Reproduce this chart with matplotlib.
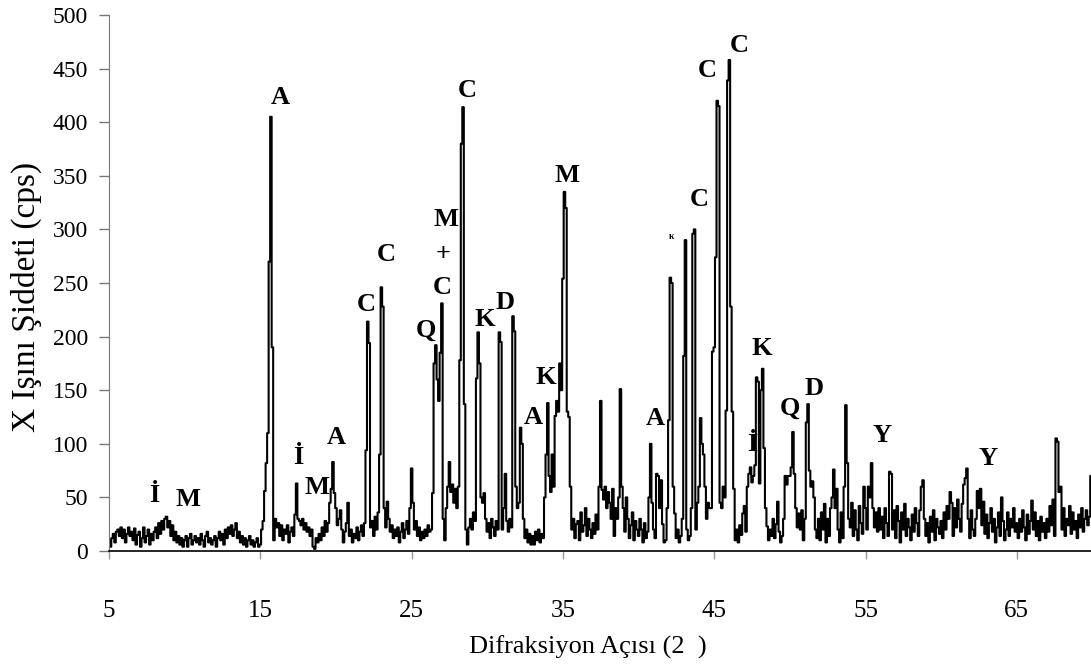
import matplotlib
matplotlib.use('Agg')
import matplotlib.pyplot as plt
import numpy as np

# ---------------- data ----------------
# intensity (cps) read from the pattern, 0.1 deg steps from 5.0 to 70.0 (2 theta)
intensity = [
    10, 4, 12, 16, 8, 18, 20, 14, 22, 12,        # 5
    20, 8, 16, 22, 14, 18, 10, 21, 6, 15,        # 6
    18, 4, 12, 22, 8, 14, 20, 6, 16, 10,         # 7
    18, 22, 12, 26, 16, 28, 20, 30, 32, 22,      # 8
    28, 14, 24, 10, 18, 8, 14, 6, 12, 4,         # 9
    10, 14, 4, 12, 16, 6, 10, 14, 8, 12,         # 10
    6, 16, 10, 4, 14, 18, 8, 12, 6, 10,          # 11
    14, 4, 12, 18, 10, 16, 6, 20, 12, 22,        # 12
    16, 24, 14, 20, 26, 12, 18, 8, 14, 6,        # 13
    12, 4, 10, 14, 6, 10, 4, 8, 12, 4,           # 14
    6, 20, 28, 56, 82, 110, 270, 405, 190, 10,   # 15
    30, 22, 26, 14, 24, 10, 20, 16, 24, 8,       # 16
    18, 22, 14, 34, 63, 30, 28, 24, 30, 20,      # 17
    26, 18, 22, 14, 20, 4, 2, 12, 8, 16,         # 18
    10, 22, 14, 28, 18, 26, 45, 58, 83, 54,      # 19
    40, 24, 30, 38, 20, 8, 18, 26, 45, 14,       # 20
    20, 8, 16, 12, 22, 10, 18, 24, 14, 26,       # 21
    94, 214, 194, 22, 28, 14, 32, 20, 36, 90,    # 22
    246, 228, 40, 22, 46, 30, 18, 24, 12, 20,    # 23
    14, 22, 8, 18, 26, 12, 20, 28, 16, 40,       # 24
    77, 45, 20, 28, 14, 22, 10, 18, 12, 20,      # 25
    14, 24, 18, 20, 54, 175, 192, 160, 140, 185, # 26
    231, 30, 10, 40, 60, 83, 55, 62, 45, 58,     # 27
    40, 60, 178, 380, 414, 137, 20, 6, 22, 30,   # 28
    20, 36, 28, 161, 204, 175, 50, 45, 54, 30,   # 29
    18, 26, 12, 30, 22, 14, 28, 20, 204, 195,    # 30
    20, 40, 72, 28, 18, 30, 22, 219, 205, 60,    # 31
    40, 45, 115, 100, 30, 12, 20, 8, 16, 6,      # 32
    14, 6, 18, 10, 20, 8, 16, 12, 50, 90,        # 33
    138, 70, 55, 90, 60, 126, 140, 130, 175, 150,# 34
    254, 335, 320, 130, 125, 60, 20, 30, 12, 25, # 35
    28, 10, 36, 18, 24, 40, 14, 30, 20, 12,      # 36
    26, 16, 34, 20, 60, 140, 57, 48, 60, 40,     # 37
    55, 45, 30, 58, 14, 40, 30, 50, 151, 60,     # 38
    40, 18, 50, 30, 12, 24, 36, 10, 28, 20,      # 39
    14, 30, 20, 8, 26, 12, 18, 50, 100, 45,      # 40
    20, 12, 72, 70, 40, 66, 25, 8, 10, 40,       # 41
    122, 255, 250, 60, 35, 12, 20, 8, 14, 30,    # 42
    182, 290, 20, 10, 14, 40, 296, 300, 20, 45,  # 43
    60, 124, 100, 90, 60, 30, 45, 40, 40, 186,   # 44
    190, 274, 420, 415, 45, 40, 60, 50, 131, 439,# 45
    458, 228, 130, 58, 10, 20, 8, 24, 15, 35,    # 46
    42, 18, 60, 72, 78, 64, 70, 80, 162, 158,    # 47
    63, 150, 170, 96, 40, 23, 10, 20, 14, 30,    # 48
    12, 25, 46, 18, 8, 14, 30, 70, 62, 70,       # 49
    70, 78, 111, 72, 40, 22, 35, 20, 38, 10,     # 50
    30, 120, 137, 75, 60, 65, 50, 20, 12, 30,    # 51
    10, 36, 20, 44, 8, 30, 14, 40, 50, 76,       # 52
    40, 58, 20, 8, 36, 12, 60, 136, 82, 30,      # 53
    22, 45, 14, 38, 20, 10, 42, 26, 16, 60,      # 54
    40, 20, 60, 50, 82, 40, 22, 36, 18, 40,      # 55
    20, 32, 12, 40, 26, 14, 74, 72, 20, 38,      # 56
    12, 42, 28, 8, 36, 20, 44, 14, 30, 22,       # 57
    10, 34, 18, 40, 26, 14, 38, 60, 66, 30,      # 58
    14, 26, 8, 32, 18, 38, 10, 30, 22, 16,       # 59
    28, 12, 36, 20, 42, 30, 55, 45, 14, 40,      # 60
    22, 48, 30, 18, 44, 62, 68, 77, 30, 12,      # 61
    38, 20, 14, 30, 56, 40, 58, 24, 46, 16,      # 62
    34, 12, 26, 40, 18, 30, 8, 22, 36, 14,       # 63
    50, 28, 10, 20, 36, 14, 30, 22, 40, 18,      # 64
    26, 12, 30, 18, 38, 22, 10, 34, 16, 28,      # 65
    47, 20, 36, 14, 28, 10, 32, 18, 26, 12,      # 66
    30, 18, 42, 24, 48, 14, 105, 102, 55, 60,    # 67
    20, 40, 14, 30, 24, 42, 16, 36, 20, 28,      # 68
    12, 34, 22, 40, 18, 30, 38, 24, 32, 70,      # 69
    70,                                          # 70.0
]
angle_start, angle_stop = 5.0, 70.0

# phase labels
peak_labels = ['İ', 'M', 'A', 'İ', 'M', 'A', 'C', 'C', 'Q', 'M', '+', 'C', 'C',
               'K', 'D', 'A', 'K', 'M', 'A', 'C', 'C', 'C', 'İ', 'K', 'Q', 'D',
               'Y', 'Y']
label_x = [7.97, 10.24, 16.3, 17.5, 18.73, 20.0, 21.99, 23.3, 25.95, 27.27, 27.05,
           27.05, 28.7, 29.85, 31.17, 33.05, 33.9, 35.25, 41.09, 44.02, 44.55,
           46.66, 47.48, 48.14, 50.0, 51.6, 56.07, 63.1]
label_y = [52, 48, 423, 87, 59, 106, 230, 277, 206, 309, 277, 246, 430, 216,
           232, 125, 162, 350, 124, 328, 448, 472, 99, 189, 133, 152, 108, 86]
small_label = 'κ'
small_label_xy = (42.19, 293)

x_ticks = [5, 15, 25, 35, 45, 55, 65]
y_ticks = [0, 50, 100, 150, 200, 250, 300, 350, 400, 450, 500]
x_title = 'Difraksiyon Açısı (2  )'
y_title = 'X Işını Şiddeti (cps)'

# ---------------- plot ----------------
plt.rcParams['font.family'] = ['Liberation Serif', 'DejaVu Serif']

two_theta = np.linspace(angle_start, angle_stop, len(intensity))

fig = plt.figure(figsize=(10.91, 6.65), dpi=100)
ax = fig.add_axes([109 / 1091, 114 / 665, 982 / 1091, 536 / 665])

ax.plot(two_theta, intensity, color='black', lw=1.5, drawstyle='steps-mid')

ax.set_xlim(5, 69.9)
ax.set_ylim(0, 500)
ax.set_xticks(x_ticks)
ax.set_yticks(y_ticks)

for s in ['top', 'right']:
    ax.spines[s].set_visible(False)
ax.spines['left'].set_color('#777777')
ax.spines['bottom'].set_color('black')
ax.spines['bottom'].set_linewidth(1.2)

ax.tick_params(axis='y', direction='out', length=7, width=1, color='#777777',
               pad=8, labelsize=17)
ax.tick_params(axis='x', direction='out', length=6, width=1, color='#999999',
               pad=29, labelsize=18)

ax.set_xlabel(x_title, fontsize=19)
ax.set_ylabel(y_title, fontsize=24)
ax.xaxis.set_label_coords(0.488, -0.158)
ax.yaxis.set_label_coords(-0.068, 0.474)

for t, lx, ly in zip(peak_labels, label_x, label_y):
    ax.text(lx, ly, t, ha='center', va='center', fontsize=19,
            fontweight='bold', color='black')
ax.text(small_label_xy[0], small_label_xy[1], small_label, ha='center',
        va='center', fontsize=7, fontweight='bold', color='black')

fig.savefig('out.png', dpi=100)
